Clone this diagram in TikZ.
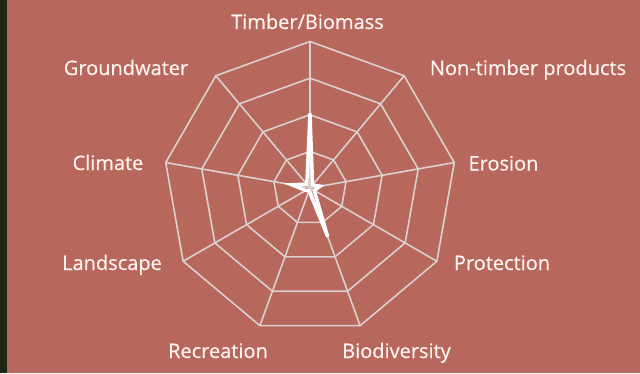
\documentclass[tikz,border=0pt]{standalone}
\usepackage{fontspec}
\setmainfont{Open Sans}
\newfontfamily\lblfont{Open Sans}[FakeBold=0.5]
\definecolor{bg}{RGB}{184,103,92}
\definecolor{gridc}{RGB}{218,208,205}
\definecolor{txt}{RGB}{253,243,241}
\definecolor{strip}{RGB}{30,36,22}
\begin{document}
\begin{tikzpicture}[x=1pt,y=1pt,
  lbl/.style={text=txt, font=\lblfont\fontsize{20}{24}\selectfont, anchor=base, inner sep=0pt},
  gridline/.style={draw=gridc, line width=1.6pt, line join=miter},
  dataline/.style={draw=white, line width=3.4pt, line join=miter}]
\fill[bg] (0,0) rectangle (640,373);
\fill[strip] (0,0) rectangle (7,373);
\useasboundingbox (0,0) rectangle (640,373);
\coordinate (O) at (310,185);
\begin{scope}[shift={(310,185)}]
  \foreach \i in {0,...,8} {
    \coordinate (A\i) at ({90-40*\i}:146.5);
    \draw[gridline] (O) -- (A\i);
  }
  \foreach \k in {1,...,4} {
    \draw[gridline] (90:36.625*\k) \foreach \i in {1,...,8}{ -- ({90-40*\i}:36.625*\k)} -- cycle;
  }
  \coordinate (D0) at (90:75);
  \coordinate (D1) at (50:4);
  \coordinate (D2) at (10:10.5);
  \coordinate (D3) at (-30:5);
  \coordinate (D4) at (-70:52);
  \coordinate (D5) at (-110:3);
  \coordinate (D6) at (-150:5);
  \coordinate (D7) at (170:19);
  \coordinate (D8) at (130:5);
\end{scope}
\draw[dataline] (D0) -- (D1) -- (D2) -- (D3) -- (D4) -- (D5) -- (D6) -- (D7) -- (D8) -- cycle;
\node[lbl] (timber) at (307.5,344) {Timber/Biomass};
\node[lbl] (nontimber) at (528,298) {Non-timber products};
\node[lbl] (ground) at (126,298) {Groundwater};
\node[lbl] (climate) at (108,203) {Climate};
\node[lbl] (erosion) at (503.5,202.5) {Erosion};
\node[lbl] (landscape) at (112,103) {Landscape};
\node[lbl] (protection) at (502,103) {Protection};
\node[lbl] (recreation) at (218,15) {Recreation};
\node[lbl] (biodiv) at (396.5,15) {Biodiversity};
\end{tikzpicture}
\end{document}
